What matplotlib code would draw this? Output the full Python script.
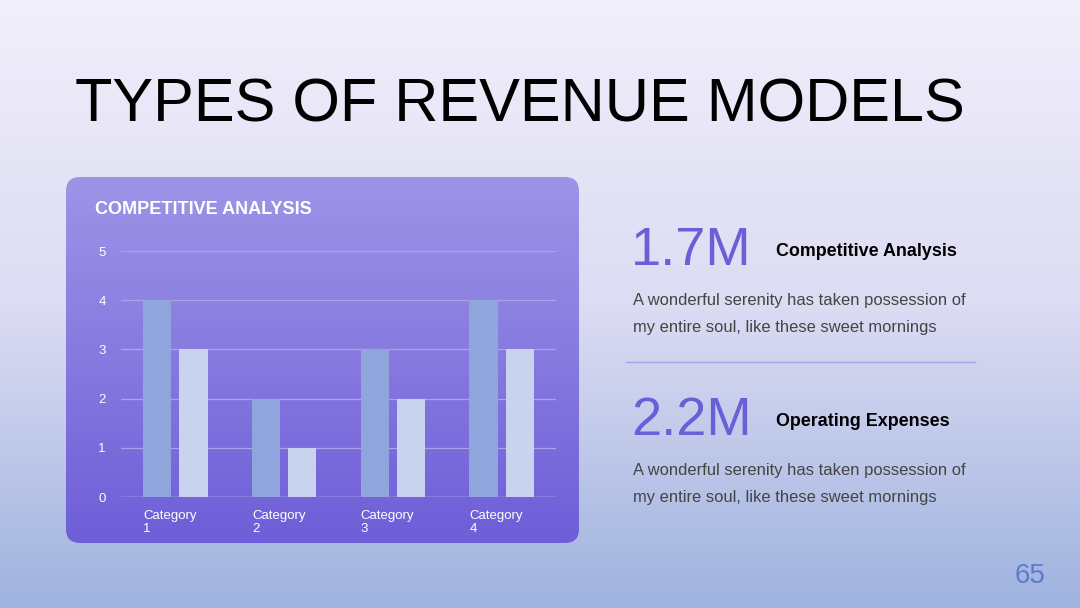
import matplotlib
matplotlib.use("Agg")
import matplotlib.pyplot as plt
import numpy as np
from matplotlib.patches import FancyBboxPatch
from matplotlib.colors import LinearSegmentedColormap

plt.rcParams['font.family'] = ['Liberation Sans', 'DejaVu Sans']

# chart data
categories = ["Category\n1", "Category\n2", "Category\n3", "Category\n4"]
series_a = [4, 2, 3, 4]
series_b = [3, 1, 2, 3]
y_ticks = [0, 1, 2, 3, 4, 5]

# side panel text
stat_values = ["1.7M", "2.2M"]
stat_titles = ["Competitive Analysis", "Operating Expenses"]
stat_body = "A wonderful serenity has taken possession of\nmy entire soul, like these sweet mornings"

W, H = 1080, 608
fig = plt.figure(figsize=(W / 100, H / 100), dpi=100)

# background, pixel coordinates (y downward)
bg = fig.add_axes([0, 0, 1, 1])
bg.set_xlim(0, W)
bg.set_ylim(H, 0)
bg.axis("off")
bg_cmap = LinearSegmentedColormap.from_list("bg", ["#f1effb", "#dcdcf3", "#9fb3df"])
grad = np.linspace(0, 1, 256).reshape(-1, 1)
bg.imshow(grad, cmap=bg_cmap, extent=[0, W, H, 0], aspect="auto", zorder=0)

# card with vertical gradient
card = FancyBboxPatch((66, 177), 513, 366, boxstyle="round,pad=0,rounding_size=14",
                      facecolor="none", edgecolor="none", zorder=1)
bg.add_patch(card)
card_cmap = LinearSegmentedColormap.from_list("card", ["#9e94e7", "#6e5ed8"])
im = bg.imshow(grad, cmap=card_cmap, extent=[66, 579, 543, 177], aspect="auto", zorder=1)
im.set_clip_path(card)

bg.text(75, 106, "TYPES OF REVENUE MODELS", fontsize=44, color="black",
        va="center", ha="left")
bg.text(95, 210, "COMPETITIVE ANALYSIS", fontsize=13, fontweight="bold",
        color="white", va="center", ha="left")

# right side stats
for i, (val, title) in enumerate(zip(stat_values, stat_titles)):
    y0 = 251 + i * 170
    bg.text(631, y0, val, fontsize=39, color="#6a5fd6", va="center", ha="left")
    bg.text(776, y0, title, fontsize=12.9, fontweight="bold", color="black",
            va="center", ha="left")
    bg.text(633, y0 + 63, stat_body, fontsize=11.85, color="#444444",
            va="center", ha="left", linespacing=1.97)
bg.plot([626, 975], [362, 362], color="#a3a3e8", lw=1, zorder=2)

bg.text(1030, 576, "65", fontsize=20, color="#5b7bce", va="center", ha="center")

# bar chart axes
ax = fig.add_axes([121 / W, (H - 497) / H, 435 / W, 246 / H])
ax.patch.set_alpha(0)
x = np.arange(len(categories))
bw = 0.26
ax.bar(x - 0.166, series_a, width=bw, color="#8fa5dc", zorder=3)
ax.bar(x + 0.166, series_b, width=bw, color="#c8d3ee", zorder=3)
ax.set_xlim(-0.5, len(categories) - 0.5)
ax.set_ylim(0, 5)
ax.set_yticks(y_ticks)
ax.set_yticklabels([str(t) for t in y_ticks], color="white", fontsize=9.5)
ax.tick_params(axis="y", length=0, pad=11)
ax.set_xticks(x - 0.166 - bw / 2)
ax.set_xticklabels(categories, color="white", fontsize=9.5, ha="left",
                   linespacing=1.2)
ax.tick_params(axis="x", length=0, pad=9)
ax.grid(axis="y", color="#aaa4ee", lw=0.9, zorder=0)
for s in ax.spines.values():
    s.set_visible(False)
ax.axhline(0, color="#b4aff0", lw=1, zorder=2)

fig.savefig("out.png", dpi=100)
